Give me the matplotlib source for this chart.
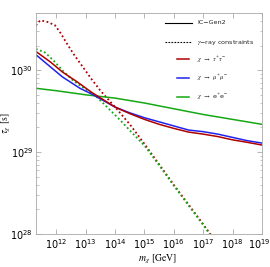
import numpy as np
import matplotlib
matplotlib.use("Agg")
import matplotlib.pyplot as plt
from matplotlib.transforms import ScaledTranslation

plt.rcParams['mathtext.fontset'] = 'stix'

# log10 of mass [GeV] and lifetime [s]
lm_tau_ic = [11.3, 11.8, 12.2, 12.7, 13.2, 13.6, 14.0, 14.5, 15.0, 15.5, 16.0, 16.5, 17.0, 17.5, 18.0, 18.5, 19.0]
lt_tau_ic = [30.23, 30.10, 29.98, 29.86, 29.73, 29.64, 29.55, 29.47, 29.40, 29.34, 29.29, 29.245, 29.22, 29.19, 29.15, 29.12, 29.087]

lm_mu_ic = [11.3, 11.8, 12.2, 12.8, 13.2, 13.6, 14.0, 14.5, 15.0, 15.5, 16.0, 16.5, 17.0, 17.5, 18.0, 18.5, 19.0]
lt_mu_ic = [30.19, 30.04, 29.92, 29.78, 29.71, 29.63, 29.55, 29.48, 29.42, 29.37, 29.32, 29.27, 29.25, 29.22, 29.18, 29.14, 29.111]

lm_e_ic = [11.3, 12.0, 13.0, 14.0, 15.0, 16.0, 17.0, 18.0, 19.0]
lt_e_ic = [29.78, 29.75, 29.70, 29.66, 29.60, 29.53, 29.46, 29.40, 29.34]

lm_tau_gr = [11.3, 11.45, 11.7, 11.95, 12.15, 12.35, 12.6, 12.9, 13.2, 13.5, 14.0, 14.5, 15.0, 15.5, 16.0, 16.5, 17.0, 17.3]
lt_tau_gr = [30.55, 30.61, 30.59, 30.55, 30.45, 30.33, 30.19, 30.04, 29.89, 29.75, 29.55, 29.34, 29.10, 28.85, 28.60, 28.36, 28.12, 27.97]

lm_e_gr = [11.3, 11.6, 11.9, 12.2, 12.55, 12.9, 13.3, 13.7, 14.2, 14.7, 15.0, 15.5, 16.0, 16.5, 17.0, 17.3]
lt_e_gr = [30.26, 30.22, 30.12, 30.00, 29.88, 29.79, 29.70, 29.56, 29.38, 29.19, 29.08, 28.84, 28.59, 28.35, 28.11, 27.96]

red = '#b00000'
blue = '#2222ee'
green = '#14a814'
dots = (0, (1, 1.4))

fig = plt.figure(figsize=(2.70, 2.67), dpi=100)
ax = fig.add_axes([0.133, 0.1236, 0.837, 0.8275])

def p(lm, lt):
    return 10.0 ** np.array(lm), 10.0 ** np.array(lt)

ax.plot(*p(lm_tau_gr, lt_tau_gr), color=red, lw=1.3, ls=dots)
ax.plot(*p(lm_e_gr, lt_e_gr), color=green, lw=1.3, ls=dots)
ax.plot(*p(lm_e_ic, lt_e_ic), color=green, lw=1.1)
ax.plot(*p(lm_mu_ic, lt_mu_ic), color=blue, lw=1.1)
ax.plot(*p(lm_tau_ic, lt_tau_ic), color=red, lw=1.1)

ax.set_xscale('log')
ax.set_yscale('log')
ax.set_xlim(2e11, 1e19)
ax.set_ylim(1e28, 5e30)

ax.set_xticks([10.0 ** k for k in range(12, 20)])
ax.set_yticks([1e28, 1e29, 1e30])
ax.tick_params(which='both', direction='in', top=True, right=True, color='#999999',
               labelsize=7, pad=2)
ax.tick_params(which='major', length=3.5, width=0.5)
ax.tick_params(which='minor', length=1.8, width=0.4)
for s in ax.spines.values():
    s.set_color('#aaaaaa')
    s.set_linewidth(0.6)

# keep the last x tick label inside the picture
fig.canvas.draw()
last = ax.get_xticklabels()[-1]
last.set_transform(last.get_transform() + ScaledTranslation(-3 / 100, 0, fig.dpi_scale_trans))

ax.set_xlabel(r'$m_\chi$ [GeV]', fontsize=7, family='STIXGeneral')
ax.xaxis.set_label_coords(0.54, -0.085)
ax.set_ylabel(r'$\tau_\chi$ [s]', fontsize=7, family='STIXGeneral')
ax.yaxis.set_label_coords(-0.1, 0.5)

# legend drawn by hand to match the short coloured handles
leg_labels = ['IC\u2212Gen2', '$\\gamma$\u2212ray constraints',
              r'$\chi$ $\rightarrow$ $\tau^{+}\tau^{-}$',
              r'$\chi$ $\rightarrow$ $\mu^{+}\mu^{-}$',
              r'$\chi$ $\rightarrow$ e$^{+}$e$^{-}$']
leg_colors = ['black', 'black', red, blue, green]
leg_styles = ['-', (0, (1.5, 1.2)), '-', '-', '-']
leg_x = [(0.57, 0.69), (0.57, 0.69), (0.624, 0.677), (0.624, 0.677), (0.624, 0.677)]
leg_y = [0.955, 0.868, 0.79, 0.705, 0.62]
for lab, c, st, (x0, x1), y in zip(leg_labels, leg_colors, leg_styles, leg_x, leg_y):
    ax.plot([x0, x1], [y, y], transform=ax.transAxes, color=c, ls=st,
            lw=0.8 if c == 'black' else 1.1)
    ax.text(0.715, y, lab, transform=ax.transAxes, fontsize=4.6, va='center',
            ha='left', color='#222222', family='DejaVu Sans')

fig.savefig('out.png', dpi=100)
